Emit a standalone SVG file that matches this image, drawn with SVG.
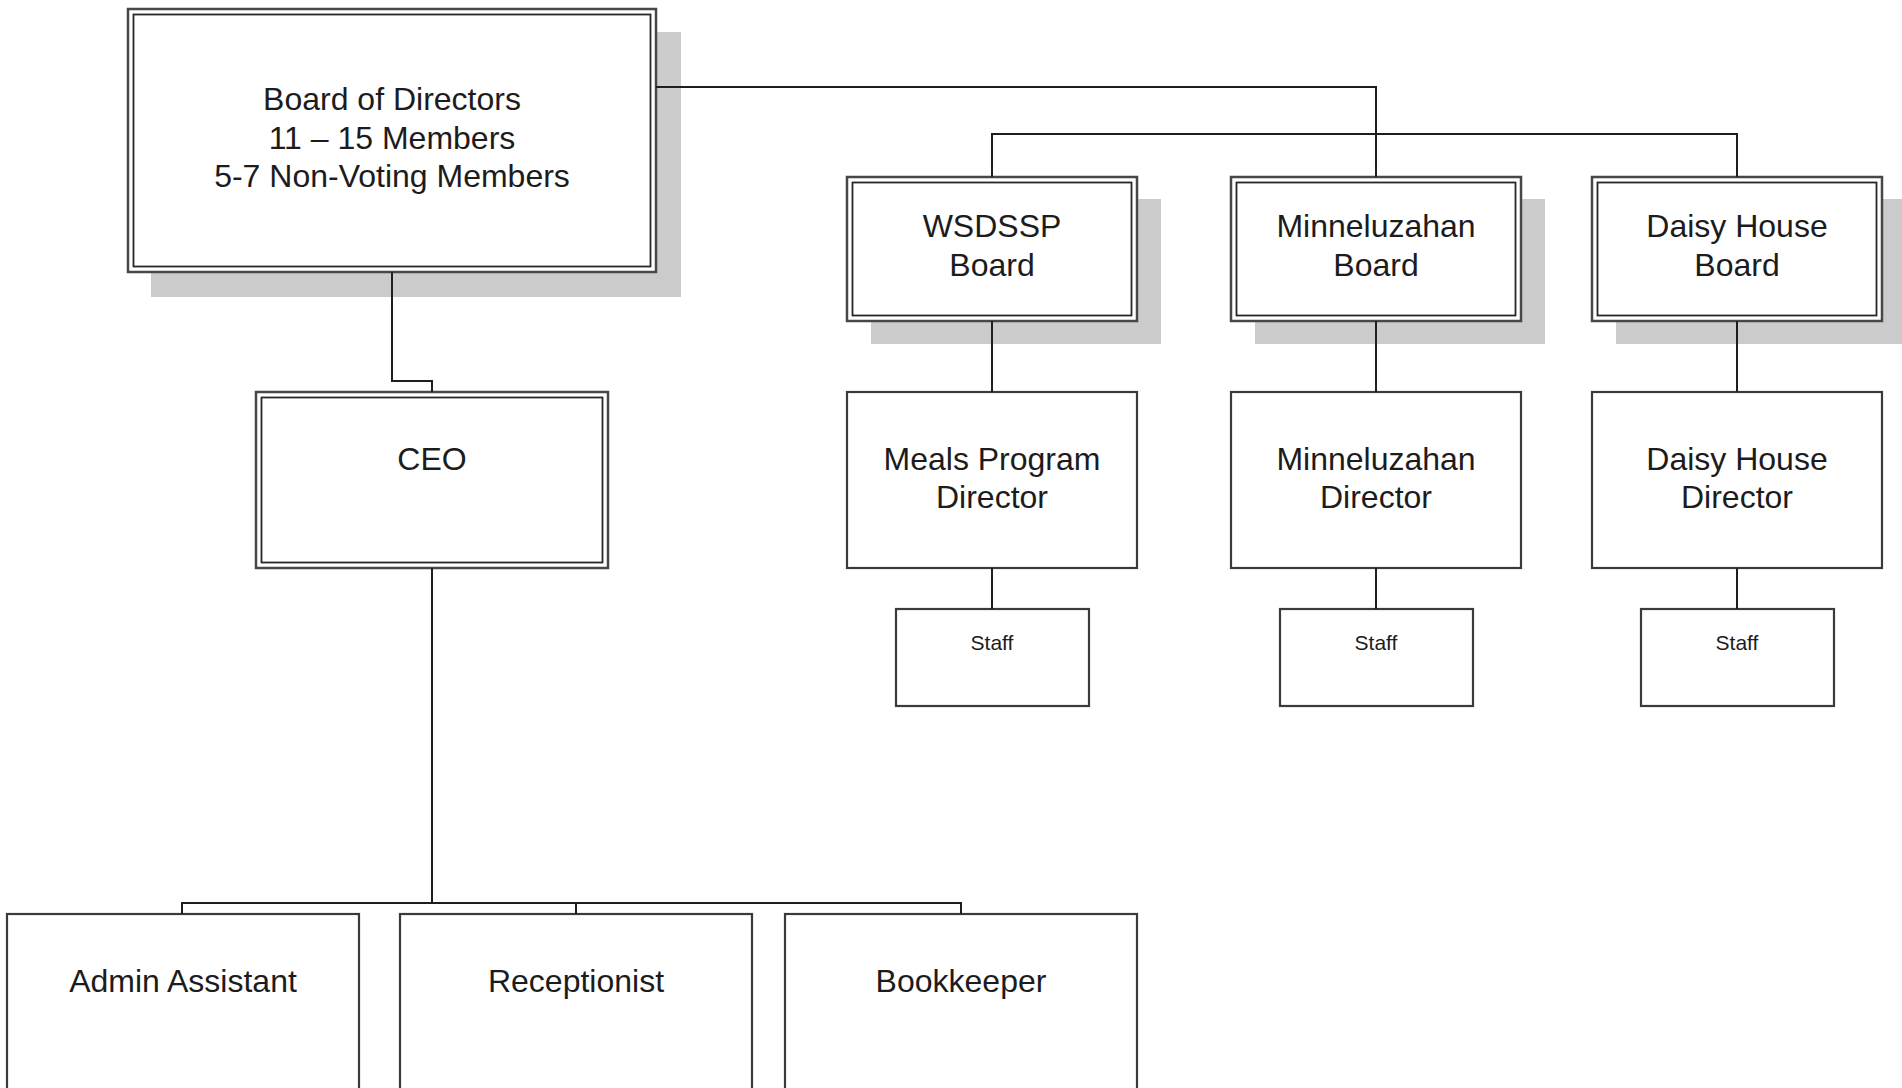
<svg xmlns="http://www.w3.org/2000/svg" width="1902" height="1088" viewBox="0 0 1902 1088">
<style>
.bg{fill:#ffffff}
.shadow{fill:#cbcbcb}
.outer{fill:#ffffff;stroke:#474747;stroke-width:2.5}
.inner{fill:none;stroke:#262626;stroke-width:1.8}
.box{fill:#ffffff;stroke:#3a3a3a;stroke-width:2.2}
.conn{fill:none;stroke:#1e1e1e;stroke-width:2}
text{font-family:"Liberation Sans",Arial,sans-serif;fill:#1c1c1c;text-anchor:middle}
.t{font-size:32px}
.s{font-size:21px}
</style>
<rect class="bg" x="0" y="0" width="1902" height="1088"/>

<g id="board-of-directors">
  <rect class="shadow" x="151" y="32" width="530" height="265"/>
  <rect class="outer" x="128" y="9" width="528" height="263"/>
  <rect class="inner" x="133.5" y="14.5" width="517" height="252"/>
  <text class="t" x="392" y="110">Board of Directors</text>
  <text class="t" x="392" y="148.5">11 – 15 Members</text>
  <text class="t" x="392" y="187">5-7 Non-Voting Members</text>
</g>

<g id="ceo">
  <rect class="outer" x="256" y="392" width="352" height="176"/>
  <rect class="inner" x="261.5" y="397.5" width="341" height="165"/>
  <text class="t" x="432" y="470">CEO</text>
</g>

<g id="wsdssp-board">
  <rect class="shadow" x="871" y="199" width="290" height="145"/>
  <rect class="outer" x="847" y="177" width="290" height="144"/>
  <rect class="inner" x="852.5" y="182.5" width="279" height="133"/>
  <text class="t" x="992" y="237">WSDSSP</text>
  <text class="t" x="992" y="276">Board</text>
</g>

<g id="minneluzahan-board">
  <rect class="shadow" x="1255" y="199" width="290" height="145"/>
  <rect class="outer" x="1231" y="177" width="290" height="144"/>
  <rect class="inner" x="1236.5" y="182.5" width="279" height="133"/>
  <text class="t" x="1376" y="237">Minneluzahan</text>
  <text class="t" x="1376" y="276">Board</text>
</g>

<g id="daisy-house-board">
  <rect class="shadow" x="1616" y="199" width="290" height="145"/>
  <rect class="outer" x="1592" y="177" width="290" height="144"/>
  <rect class="inner" x="1597.5" y="182.5" width="279" height="133"/>
  <text class="t" x="1737" y="237">Daisy House</text>
  <text class="t" x="1737" y="276">Board</text>
</g>

<g id="meals-program-director">
  <rect class="box" x="847" y="392" width="290" height="176"/>
  <text class="t" x="992" y="470">Meals Program</text>
  <text class="t" x="992" y="508">Director</text>
</g>

<g id="minneluzahan-director">
  <rect class="box" x="1231" y="392" width="290" height="176"/>
  <text class="t" x="1376" y="470">Minneluzahan</text>
  <text class="t" x="1376" y="508">Director</text>
</g>

<g id="daisy-house-director">
  <rect class="box" x="1592" y="392" width="290" height="176"/>
  <text class="t" x="1737" y="470">Daisy House</text>
  <text class="t" x="1737" y="508">Director</text>
</g>

<g id="staff-meals">
  <rect class="box" x="896" y="609" width="193" height="97"/>
  <text class="s" x="992" y="650">Staff</text>
</g>

<g id="staff-minneluzahan">
  <rect class="box" x="1280" y="609" width="193" height="97"/>
  <text class="s" x="1376" y="650">Staff</text>
</g>

<g id="staff-daisy">
  <rect class="box" x="1641" y="609" width="193" height="97"/>
  <text class="s" x="1737" y="650">Staff</text>
</g>

<g id="admin-assistant">
  <rect class="box" x="7" y="914" width="352" height="200"/>
  <text class="t" x="183" y="992">Admin Assistant</text>
</g>

<g id="receptionist">
  <rect class="box" x="400" y="914" width="352" height="200"/>
  <text class="t" x="576" y="992">Receptionist</text>
</g>

<g id="bookkeeper">
  <rect class="box" x="785" y="914" width="352" height="200"/>
  <text class="t" x="961" y="992">Bookkeeper</text>
</g>

<g id="connectors">
  <polyline class="conn" points="656,87 1376,87 1376,177"/>
  <polyline class="conn" points="992,177 992,134 1737,134 1737,177"/>
  <polyline class="conn" points="392,272 392,381 432,381 432,392"/>
  <line class="conn" x1="432" y1="568" x2="432" y2="903"/>
  <polyline class="conn" points="182,914 182,903 961,903 961,914"/>
  <line class="conn" x1="576" y1="903" x2="576" y2="914"/>
  <line class="conn" x1="992" y1="321" x2="992" y2="392"/>
  <line class="conn" x1="1376" y1="321" x2="1376" y2="392"/>
  <line class="conn" x1="1737" y1="321" x2="1737" y2="392"/>
  <line class="conn" x1="992" y1="568" x2="992" y2="609"/>
  <line class="conn" x1="1376" y1="568" x2="1376" y2="609"/>
  <line class="conn" x1="1737" y1="568" x2="1737" y2="609"/>
</g>
</svg>
